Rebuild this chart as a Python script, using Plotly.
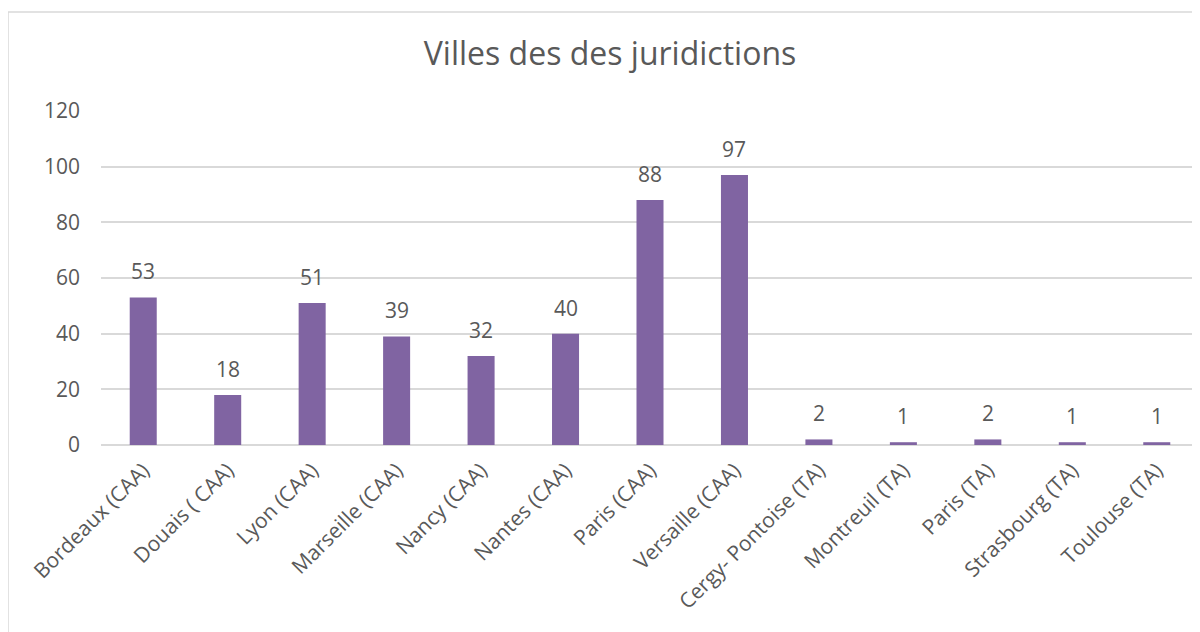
import plotly.graph_objects as go

# Données
juridictions = [
    "Bordeaux (CAA)", "Douais ( CAA)", "Lyon (CAA)", "Marseille (CAA)",
    "Nancy (CAA)", "Nantes (CAA)", "Paris (CAA)", "Versaille (CAA)",
    "Cergy- Pontoise (TA)", "Montreuil (TA)", "Paris (TA)",
    "Strasbourg (TA)", "Toulouse (TA)",
]
nombres = [53, 18, 51, 39, 32, 40, 88, 97, 2, 1, 2, 1, 1]
y_ticks = [0, 20, 40, 60, 80, 100, 120]

FONT = "Open Sans, sans-serif"
W, H = 1200, 632
OFF = 8  # marge du body html
ML, MR, MT, MB = 101 - OFF, 1200 - 1183 - OFF, 111 - OFF, 632 - 445 + OFF

fig = go.Figure()

fig.add_trace(go.Bar(
    x=juridictions,
    y=nombres,
    marker=dict(color="#8064a2", line=dict(width=0)),
    width=0.32,
    hoverinfo="x+y",
))

# étiquettes de données au-dessus des barres
for cat, val in zip(juridictions, nombres):
    fig.add_annotation(
        x=cat, y=val, text=str(val),
        showarrow=False, yanchor="bottom", yshift=10,
        font=dict(family=FONT, size=21, color="#595959"),
    )

# cadre du graphique (haut et gauche)
pw = W - ML - MR
ph = H - MT - MB
x_left = (8 - OFF - ML) / pw
y_top = 1 + (MT - (12 - OFF)) / ph
fig.add_shape(type="line", xref="paper", yref="paper",
              x0=x_left, x1=x_left, y0=-2, y1=y_top,
              line=dict(color="#d9d9d9", width=1.5))
fig.add_shape(type="line", xref="paper", yref="paper",
              x0=x_left, x1=1.2, y0=y_top, y1=y_top,
              line=dict(color="#d9d9d9", width=1.5))

fig.update_layout(
    width=W, height=H,
    margin=dict(l=ML, r=MR, t=MT, b=MB),
    paper_bgcolor="white",
    plot_bgcolor="white",
    showlegend=False,
    title=dict(
        text="Villes des des juridictions",
        x=(610 - OFF - ML) / pw, xref="paper", xanchor="center",
        y=1 - (54 - OFF) / H, yanchor="middle",
        font=dict(family=FONT, size=32, color="#595959"),
    ),
    xaxis=dict(
        tickangle=-45,
        tickfont=dict(family=FONT, size=21, color="#595959"),
        showgrid=False,
        showline=False,
        ticks="",
        ticklabelstandoff=8,
    ),
    yaxis=dict(
        range=[0, 120],
        tickvals=y_ticks,
        tickfont=dict(family=FONT, size=21, color="#595959"),
        showgrid=True,
        gridcolor="#d9d9d9",
        gridwidth=1.5,
        zeroline=True,
        zerolinecolor="#d9d9d9",
        zerolinewidth=2,
        showline=False,
        ticks="",
        ticklabelstandoff=20,
    ),
)

fig.write_html("out.html")
